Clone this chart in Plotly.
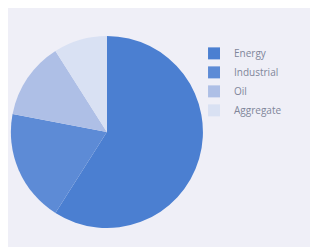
import plotly.graph_objects as go

categories = ["Energy", "Industrial", "Oil", "Aggregate"]
values = [59, 19, 13, 9]
colors = ["#4b7fd1", "#5d8bd6", "#aebfe6", "#d9e1f3"]

fig = go.Figure(go.Pie(
    labels=categories,
    values=values,
    sort=False,
    direction="clockwise",
    rotation=0,
    textinfo="none",
    hoverinfo="label+percent",
    marker=dict(colors=colors, line=dict(width=0)),
    domain=dict(x=[0.009, 0.613], y=[0.109, 0.887]),
))

fig.update_layout(
    width=318, height=247,
    margin=dict(l=0, r=0, t=0, b=0),
    paper_bgcolor="#efeff7",
    plot_bgcolor="#efeff7",
    showlegend=True,
    legend=dict(
        x=0.585, y=0.875, xanchor="left", yanchor="top",
        font=dict(family="Open Sans", size=10, color="#80869a"),
        bgcolor="rgba(0,0,0,0)",
        itemwidth=30,
    ),
)

fig.write_html("out.html")
